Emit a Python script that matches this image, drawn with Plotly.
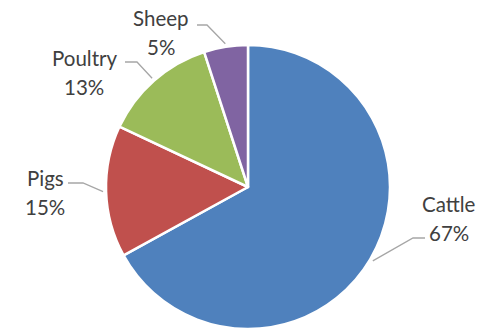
import math
import plotly.graph_objects as go

# ---- data ----
categories = ["Cattle", "Pigs", "Poultry", "Sheep"]
values = [67, 15, 13, 5]
colors = ["#4F81BD", "#C0504D", "#9BBB59", "#8064A2"]

# ---- layout settings (pixels) ----
W, H = 494, 330
CX, CY, R = 248, 187, 142
LINE_GAP = 29
# label text-block centres and leader elbow/end points (px)
label_centers = [(449, 218), (45, 192), (84, 72), (161, 33)]
leader_elbows = [(413, 238), (83, 183), (137, 62), (207, 25)]
leader_ends = [(425, 238), (68, 183), (125, 62), (197, 25)]

fig = go.Figure(go.Pie(
    labels=categories, values=values, sort=False, direction="clockwise",
    rotation=0, textinfo="none", hoverinfo="label+percent",
    marker=dict(colors=colors, line=dict(color="white", width=2.5)),
    domain=dict(x=[(CX - R) / W, (CX + R) / W], y=[(H - CY - R) / H, (H - CY + R) / H]),
    showlegend=False,
))

def px2paper(x, y):
    return x / W, 1 - y / H

font = dict(family="Lato, Carlito, sans-serif", size=20.5, color="#404040")
total = sum(values)
cum = 0
annotations = []
shapes = []
for i, (cat, v) in enumerate(zip(categories, values)):
    mid = (cum + v / 2) / total * 2 * math.pi
    cum += v
    sx = CX + (R + 3) * math.sin(mid)
    sy = CY - (R + 3) * math.cos(mid)
    pct = round(v / total * 100)
    lx, ly = label_centers[i]
    for txt, dy in ((cat, -LINE_GAP / 2), (f"{pct}%", LINE_GAP / 2)):
        ax, ay = px2paper(lx, ly + dy)
        annotations.append(dict(
            x=ax, y=ay, xref="paper", yref="paper", showarrow=False,
            text=txt, font=font, xanchor="center", yanchor="middle",
        ))
    p0 = px2paper(sx, sy)
    p1 = px2paper(*leader_elbows[i])
    p2 = px2paper(*leader_ends[i])
    shapes.append(dict(
        type="path", xref="paper", yref="paper",
        path=f"M {p0[0]} {p0[1]} L {p1[0]} {p1[1]} L {p2[0]} {p2[1]}",
        line=dict(color="#A6A6A6", width=1.3),
    ))

fig.update_layout(
    width=W, height=H, margin=dict(l=0, r=0, t=0, b=0),
    paper_bgcolor="white", plot_bgcolor="white",
    annotations=annotations, shapes=shapes,
)
fig.write_html("out.html")
